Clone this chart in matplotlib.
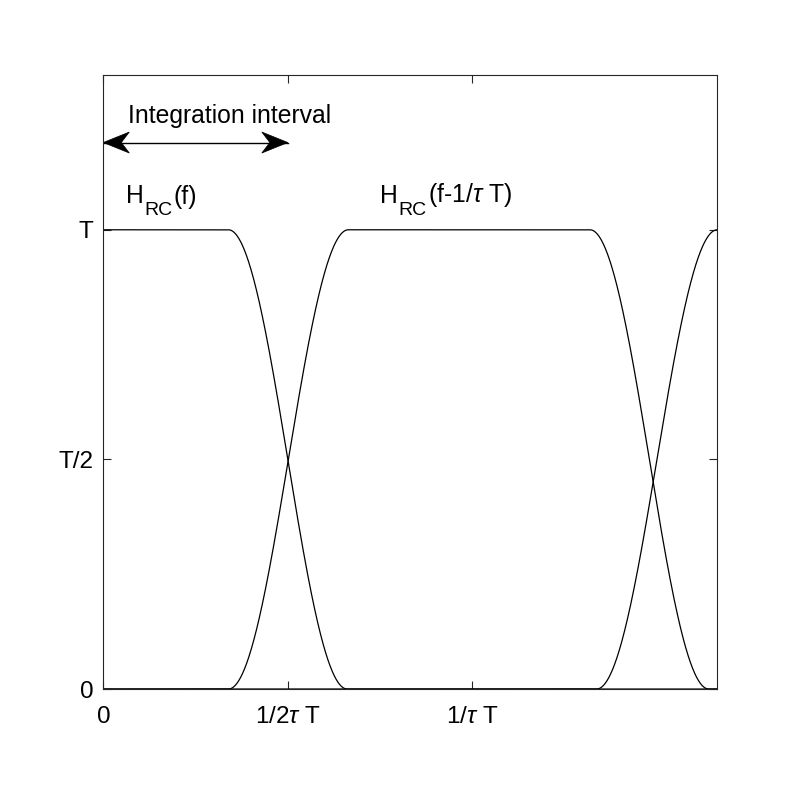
import numpy as np
import matplotlib
matplotlib.use("Agg")
import matplotlib.pyplot as plt
from matplotlib.patches import Polygon
from matplotlib.transforms import ScaledTranslation

plt.rcParams["font.family"] = ["Liberation Sans", "DejaVu Sans"]
plt.rcParams["mathtext.fontset"] = "custom"
plt.rcParams["mathtext.it"] = "Liberation Sans:italic"
plt.rcParams["mathtext.rm"] = "Liberation Sans"

# ── Data (x in units of 1/tau T, y in units of T) ─────────────────────────── #
# transition edges: rise start, rise end, fall start, fall end
curve_rise_start = [-1.0, 0.339, 1.337]
curve_rise_end   = [-0.5, 0.664, 1.664]
curve_fall_start = [0.339, 1.319, 2.5]
curve_fall_end   = [0.661, 1.641, 3.0]

xtick_vals   = [0, 0.5, 1.0]
xtick_labels = ["0", r"1/2$\tau$ T", r"1/$\tau$ T"]
ytick_vals   = [0, 0.5, 1.0]
ytick_labels = ["0", "T/2", "T"]

arrow_from, arrow_to, arrow_y = 0.0, 0.5, 1.19

# (text before subscript, subscript, text after, x, y)
curve_labels = [
    ("H", "RC", "(f)", 0.062, 1.058),
    ("H", "RC", r"(f-1/$\tau$ T)", 0.751, 1.058),
]


def raised_cos(f, a, b, c, d):
    h = np.zeros_like(f)
    h[(f >= b) & (f <= c)] = 1.0
    up = (f > a) & (f < b)
    h[up] = 0.5 * (1 - np.cos(np.pi * (f[up] - a) / (b - a)))
    dn = (f > c) & (f < d)
    h[dn] = 0.5 * (1 + np.cos(np.pi * (f[dn] - c) / (d - c)))
    return h


fig = plt.figure(figsize=(7.93, 7.93), dpi=100)
ax = fig.add_axes([0.1303, 0.1311, 0.7742, 0.7743])

f = np.linspace(0, 5 / 3, 2000)
for a, b, c, d in zip(curve_rise_start, curve_rise_end, curve_fall_start, curve_fall_end):
    ax.plot(f, raised_cos(f, a, b, c, d), color="black", lw=0.9)

ax.set_xlim(0, 1.664)
ax.set_ylim(0, 1.337)
ax.set_xticks(xtick_vals)
ax.set_xticklabels(xtick_labels)
ax.set_yticks(ytick_vals)
ax.set_yticklabels(ytick_labels)
ax.tick_params(direction="in", length=6, width=0.8, color="#262626",
               top=True, right=True, labelsize=17.5)
ax.tick_params(axis="x", pad=12)
ax.tick_params(axis="y", pad=7)
for s in ax.spines.values():
    s.set_color("#262626")
    s.set_linewidth(0.8)

# double-headed arrow, MATLAB-style notched heads
ax.plot([arrow_from, arrow_to], [arrow_y, arrow_y], color="black", lw=1.0)
head = np.array([[0, 0], [26, 10.5], [18, 0], [26, -10.5]]) / 100.0
for xt, sgn in [(arrow_from, 1), (arrow_to, -1)]:
    verts = head * np.array([sgn, 1])
    tr = fig.dpi_scale_trans + ScaledTranslation(xt, arrow_y, ax.transData)
    ax.add_patch(Polygon(verts, closed=True, facecolor="black", edgecolor="black",
                         lw=0.5, transform=tr, clip_on=False))

ax.text(0.066, 1.232, "Integration interval", fontsize=17.8, va="baseline", ha="left")

for pre, sub, post, x, y in curve_labels:
    t1 = ax.text(x, y, pre, fontsize=17.8, va="baseline", ha="left")
    t2 = ax.annotate(sub, xy=(1, 0), xycoords=t1, xytext=(0.5, -7.5),
                     textcoords="offset points", fontsize=14, va="bottom", ha="left")
    ax.annotate(post, xy=(1, 0), xycoords=t2, xytext=(0.5, 6.8),
                textcoords="offset points", fontsize=17.8, va="bottom", ha="left")

fig.savefig("out.png", dpi=100)
